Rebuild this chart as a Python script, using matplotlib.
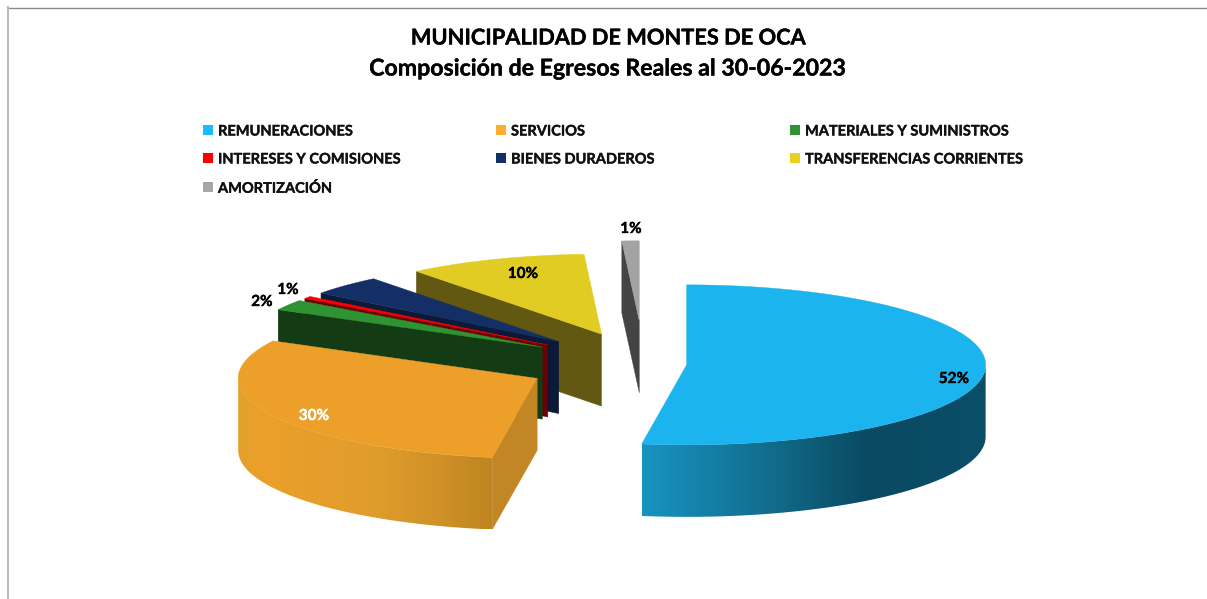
import numpy as np
import matplotlib
matplotlib.use("Agg")
import matplotlib.pyplot as plt
import matplotlib.patheffects as pe
from matplotlib.colors import LinearSegmentedColormap
from matplotlib.patches import Polygon, Rectangle

plt.rcParams['font.family'] = ['Lato', 'DejaVu Sans']

categories = ["REMUNERACIONES", "SERVICIOS", "MATERIALES Y SUMINISTROS",
              "INTERESES Y COMISIONES", "BIENES DURADEROS",
              "TRANSFERENCIAS CORRIENTES", "AMORTIZACIÓN"]
# percent of total
values = [52.4, 30.36, 2.14, 0.47, 4.0, 9.7, 0.93]
pct_labels = ["52%", "30%", "2%", "1%", "", "10%", "1%"]
explode = [0.143, 0.4, 0.4, 0.4, 0.4, 0.4, 0.54]

top_colors = ["#1BB4EE", "#ECA029", "#2E9332", "#FF0000", "#142F66", "#E0CC22", "#A3A3A3"]
wall_colors = ["#0B4C64", "#C28624", "#143C14", "#6B0000", "#0A1A38", "#635812", "#444444"]
legend_colors = ["#1CBBFF", "#FFAD2E", "#2E9332", "#FF0000", "#142F66", "#E8D020", "#A6A6A6"]
label_colors = ["black", "white", "black", "black", "black", "black", "black"]
label_pos = [(954, 379), (314, 416), (262, 302), (288, 290), None, (523, 274), (631, 229)]

# pie layout in pixels
CX, CY = 644, 364
RX, RY = 299, 80
DEPTH = 72

fig = plt.figure(figsize=(12.07, 5.99), dpi=100)
ax = fig.add_axes([0, 0, 1, 1])


def rim(a, apex, drop=0):
    return (apex[0] + RX * np.sin(a), apex[1] - RY * np.cos(a) + drop)


def arc(a1, a2, apex, drop=0):
    t = np.linspace(a1, a2, max(int(abs(a2 - a1) * 60), 2))
    return [rim(x, apex, drop) for x in t]


def gradient_wall(pts, stops, zorder):
    # vertical bands of shading, clipped to the wall outline
    xs = [p[0] for p in pts]
    ys = [p[1] for p in pts]
    cmap = LinearSegmentedColormap.from_list("wall", stops)
    im = ax.imshow(np.linspace(0, 1, 256).reshape(1, -1), cmap=cmap, aspect="auto",
                   extent=[min(xs), max(xs), max(ys), min(ys)], zorder=zorder)
    im.set_clip_path(Polygon(pts, transform=ax.transData))


def bold_text(x, y, s, size, color="black", ha="center"):
    t = ax.text(x, y, s, fontsize=size, fontweight="bold", ha=ha, va="center", color=color, zorder=20)
    t.set_path_effects([pe.withStroke(linewidth=0.25, foreground=color)])


edges = np.radians(np.concatenate([[0], np.cumsum(values)]) * 3.6)
wall_stops = {
    0: [(0, "#1893C2"), (0.35, "#126F90"), (0.65, "#0A4A62"), (1, "#0B4E68")],
    1: [(0, "#E3A02E"), (0.08, "#EBA02A"), (0.55, "#E09C2C"), (0.8, "#CF9027"), (1, "#BF8522")],
}

# back to front
for z, i in enumerate([6, 5, 4, 3, 2, 1, 0]):
    a1, a2 = edges[i], edges[i + 1]
    mid = (a1 + a2) / 2
    apex = (CX + explode[i] * RX * np.sin(mid), CY - explode[i] * RY * np.cos(mid))
    zo = 2 + z

    # rim wall, front half of the ellipse only
    lo, hi = max(a1, np.pi / 2), min(a2, 3 * np.pi / 2)
    if hi > lo:
        pts = arc(lo, hi, apex) + arc(hi, lo, apex, DEPTH)
        if i in wall_stops:
            gradient_wall(pts, wall_stops[i], zo)
        else:
            ax.add_patch(Polygon(pts, fc=wall_colors[i], ec="none", zorder=zo))

    # radial wall on the side that faces the viewer
    for a, sign in ((a1, np.sin(a1)), (a2, -np.sin(a2))):
        if sign < -1e-6:
            p = rim(a, apex)
            q = (apex[0], apex[1])
            ax.add_patch(Polygon([q, p, (p[0], p[1] + DEPTH), (q[0], q[1] + DEPTH)],
                                 fc=wall_colors[i], ec=wall_colors[i], lw=0.3, zorder=zo))

    ax.add_patch(Polygon([apex] + arc(a1, a2, apex), fc=top_colors[i], ec=top_colors[i],
                         lw=0.3, zorder=zo + 0.5))

    if label_pos[i] is not None:
        bold_text(label_pos[i][0], label_pos[i][1], pct_labels[i], 11, label_colors[i])

# title
bold_text(608, 38, "MUNICIPALIDAD DE MONTES DE OCA", 15.7)
bold_text(608, 69, "Composición de Egresos Reales al 30-06-2023", 16.65)

# legend, filled row by row
legend_x = [203, 496, 790]
legend_y = [130, 158, 187]
for i, name in enumerate(categories):
    x = legend_x[i % 3]
    y = legend_y[i // 3]
    ax.add_patch(Rectangle((x, y - 5), 10, 10, fc=legend_colors[i], ec="none"))
    bold_text(x + 15, y + 1.5, name, 10.5, "#111111", ha="left")

# frame of the pasted chart
ax.plot([8, 1207], [7.5, 7.5], color="#8C8C8C", lw=1)
ax.plot([8, 8], [7, 599], color="#BBBBBB", lw=1.5)

ax.set_xlim(0, 1207)
ax.set_ylim(599, 0)
ax.axis("off")
fig.savefig("out.png", dpi=100)
